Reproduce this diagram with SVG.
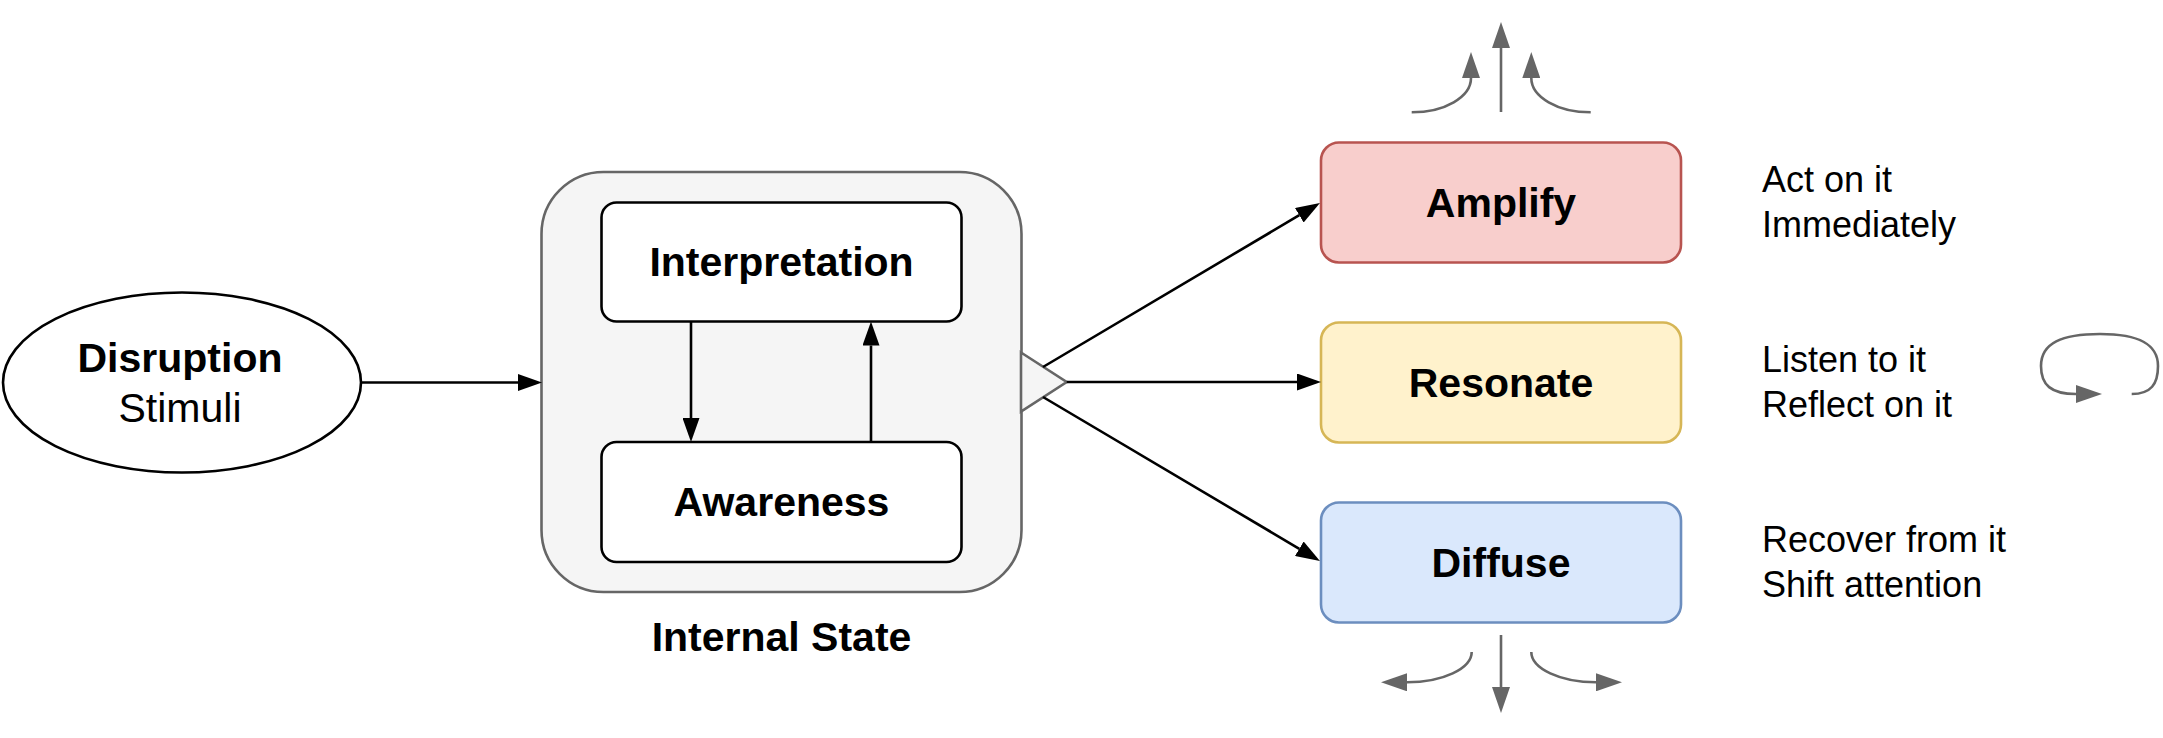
<svg xmlns="http://www.w3.org/2000/svg" width="2163" height="738" viewBox="0 0 2163 738">
<style>
text { font-family: "Liberation Sans", Arial, Helvetica, sans-serif; fill: #000; }
.b { font-weight: bold; font-size: 41px; text-anchor: middle; }
.r41 { font-size: 41px; text-anchor: middle; }
.note { font-size: 36px; }
.box { stroke-width: 2.6; }
.edge { fill: none; stroke: #000; stroke-width: 2.6; }
.gray { fill: none; stroke: #666666; stroke-width: 2.6; }
</style>
<defs>
<marker id="blk" markerUnits="userSpaceOnUse" markerWidth="24" markerHeight="17" viewBox="0 0 24 17" refX="0" refY="8.5" orient="auto">
<path d="M0,0 L24,8.5 L0,17 Z" fill="#000"/>
</marker>
<marker id="gry" markerUnits="userSpaceOnUse" markerWidth="26" markerHeight="18" viewBox="0 0 26 18" refX="0" refY="9" orient="auto">
<path d="M0,0 L26,9 L0,18 Z" fill="#666666"/>
</marker>
</defs>
<rect width="2163" height="738" fill="#ffffff"/>

<g id="internal-state">
<rect x="541.5" y="172" width="480" height="420" rx="62" fill="#f5f5f5" stroke="#666666" class="box"/>
<polygon points="1021,352.5 1066.7,382 1021,411.5" fill="#f5f5f5" stroke="#666666" stroke-width="2.6" stroke-linejoin="miter"/>
<text class="b" x="781.5" y="651">Internal State</text>
</g>

<g id="disruption">
<ellipse cx="182" cy="382.5" rx="179" ry="90" fill="#ffffff" stroke="#000" class="box"/>
<text class="b" x="180" y="372">Disruption</text>
<text class="r41" x="180" y="422">Stimuli</text>
</g>

<g id="interpretation">
<rect x="601.5" y="202.5" width="360" height="119" rx="15" fill="#ffffff" stroke="#000" class="box"/>
<text class="b" x="781.5" y="276">Interpretation</text>
</g>

<g id="awareness">
<rect x="601.5" y="442" width="360" height="120" rx="15" fill="#ffffff" stroke="#000" class="box"/>
<text class="b" x="781.5" y="516">Awareness</text>
</g>

<g id="amplify">
<rect x="1321" y="142.5" width="360" height="120" rx="18" fill="#f8cecc" stroke="#b85450" class="box"/>
<text class="b" x="1501" y="217">Amplify</text>
</g>

<g id="resonate">
<rect x="1321" y="322.5" width="360" height="120" rx="18" fill="#fff2cc" stroke="#d6b656" class="box"/>
<text class="b" x="1501" y="397">Resonate</text>
</g>

<g id="diffuse">
<rect x="1321" y="502.5" width="360" height="120" rx="18" fill="#dae8fc" stroke="#6c8ebf" class="box"/>
<text class="b" x="1501" y="577">Diffuse</text>
</g>

<g id="notes">
<text class="note" x="1762" y="192">Act on it</text>
<text class="note" x="1762" y="237">Immediately</text>
<text class="note" x="1762" y="372">Listen to it</text>
<text class="note" x="1762" y="417">Reflect on it</text>
<text class="note" x="1762" y="552">Recover from it</text>
<text class="note" x="1762" y="597">Shift attention</text>
</g>

<g id="connectors">
<path class="edge" d="M361,382.5 L518,382.5" marker-end="url(#blk)"/>
<path class="edge" d="M691,321.5 L691,418" marker-end="url(#blk)"/>
<path class="edge" d="M871,442 L871,345.5" marker-end="url(#blk)"/>
<path class="edge" d="M1043,367 L1299.3,215.2" marker-end="url(#blk)"/>
<path class="edge" d="M1066.7,382 L1297,382" marker-end="url(#blk)"/>
<path class="edge" d="M1043,397 L1299.3,548.8" marker-end="url(#blk)"/>

<path class="gray" d="M1501,112 L1501,48" marker-end="url(#gry)"/>
<path class="gray" d="M1411.7,112.3 C1444.6,112.3 1471,97 1471,78" marker-end="url(#gry)"/>
<path class="gray" d="M1590.7,112.3 C1557.8,112.3 1531.3,97 1531.3,78" marker-end="url(#gry)"/>

<path class="gray" d="M1501,635 L1501,687" marker-end="url(#gry)"/>
<path class="gray" d="M1471.7,652 C1471.7,668.6 1442.6,682.3 1407,682.3" marker-end="url(#gry)"/>
<path class="gray" d="M1531.3,652 C1531.3,668.6 1560.4,682.3 1596,682.3" marker-end="url(#gry)"/>

<path class="gray" d="M2131.7,394 C2151,394 2158,384 2158,366 C2158,343 2137,334 2100,334 C2062,334 2041,343 2041,366 C2041,385 2051,394 2076,394" marker-end="url(#gry)"/>
</g>
</svg>
